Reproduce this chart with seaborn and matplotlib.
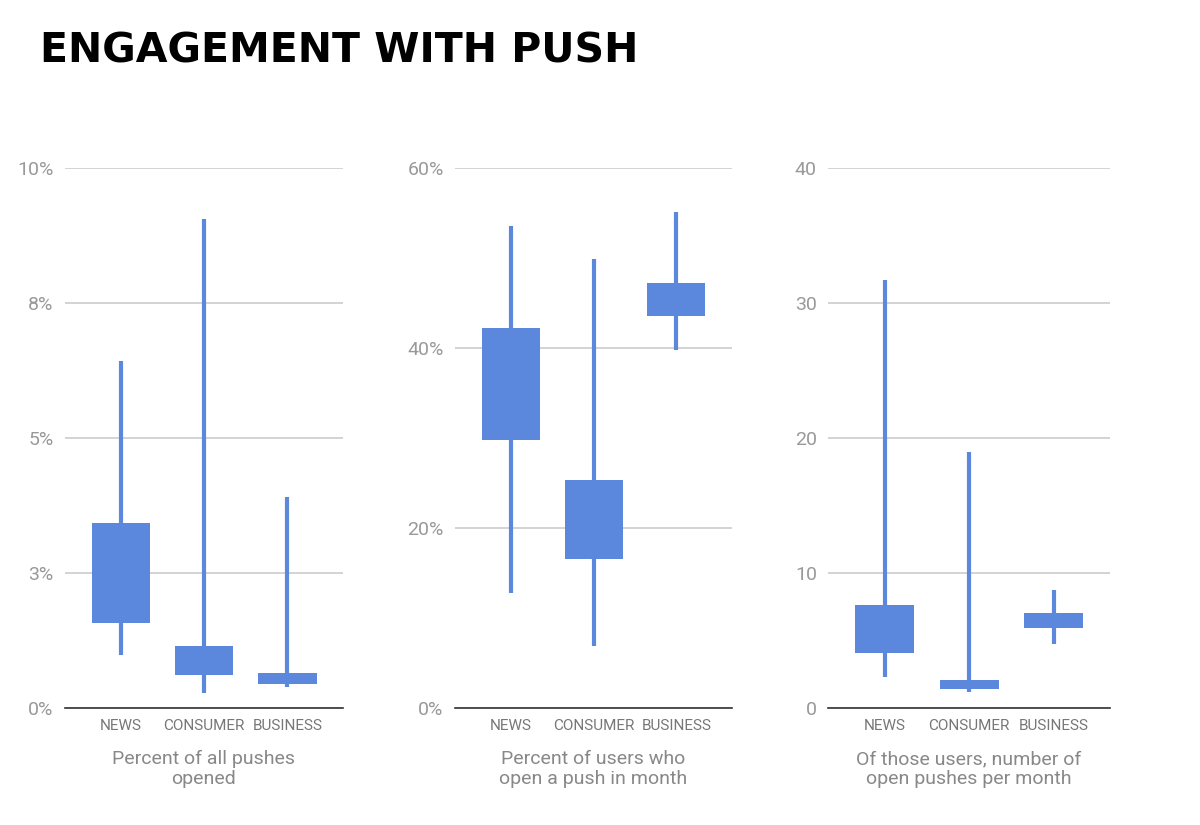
import numpy as np
import matplotlib
matplotlib.use("Agg")
import matplotlib.pyplot as plt
import seaborn as sns

sns.set_style("white")
plt.rcParams['font.family'] = ['Roboto', 'DejaVu Sans']

categories = ["NEWS", "CONSUMER", "BUSINESS"]

# low, box bottom, box top, high
pushes_opened = {"low": [0.98, 0.28, 0.39], "q1": [1.57, 0.61, 0.44],
                 "q3": [3.43, 1.15, 0.65], "high": [6.43, 9.06, 3.91]}
users_open = {"low": [12.8, 6.9, 39.8], "q1": [29.8, 16.6, 43.6],
              "q3": [42.2, 25.3, 47.3], "high": [53.6, 49.9, 55.1]}
pushes_per_month = {"low": [2.3, 1.2, 4.7], "q1": [4.1, 1.4, 5.9],
                    "q3": [7.6, 2.1, 7.0], "high": [31.7, 19.0, 8.7]}

panels = [
    (pushes_opened, [0, 2.5, 5, 7.5, 10], ["0%", "3%", "5%", "8%", "10%"],
     "Percent of all pushes\nopened"),
    (users_open, [0, 20, 40, 60], ["0%", "20%", "40%", "60%"],
     "Percent of users who\nopen a push in month"),
    (pushes_per_month, [0, 10, 20, 30, 40], ["0", "10", "20", "30", "40"],
     "Of those users, number of\nopen pushes per month"),
]
lefts = [0.054, 0.379, 0.69]
widths = [0.232, 0.231, 0.235]

color = "#5b87dd"
fig = plt.figure(figsize=(12, 8.25), dpi=100)
fig.text(0.033, 0.937, "ENGAGEMENT WITH PUSH", fontsize=29.5, fontweight="black",
         color="black", va="center", family=["DejaVu Sans"])

for (data, ticks, labels, caption), left, w in zip(panels, lefts, widths):
    ax = fig.add_axes([left, 0.142, w, 0.654])
    x = np.arange(len(categories))
    ax.vlines(x, data["low"], data["high"], color=color, lw=3, zorder=2)
    ax.bar(x, np.array(data["q3"]) - np.array(data["q1"]), bottom=data["q1"],
           width=0.7, color=color, linewidth=0, zorder=3)
    ax.set_ylim(0, ticks[-1])
    ax.set_xlim(-0.675, 2.67)
    ax.set_yticks(ticks)
    ax.set_yticklabels(labels, color="#999999", fontsize=14)
    ax.set_xticks(x)
    ax.set_xticklabels(categories, color="#777777", fontsize=11)
    ax.tick_params(length=0, pad=8)
    ax.yaxis.grid(True, color="#cccccc", lw=1.2)
    for s in ["top", "right", "left"]:
        ax.spines[s].set_visible(False)
    ax.spines["bottom"].set_color("#333333")
    ax.spines["bottom"].set_linewidth(1.2)
    ax.text(0.5, -0.078, caption, transform=ax.transAxes, ha="center", va="top",
            fontsize=14, color="#888888", linespacing=1.15)

fig.savefig("out.png", dpi=100)
